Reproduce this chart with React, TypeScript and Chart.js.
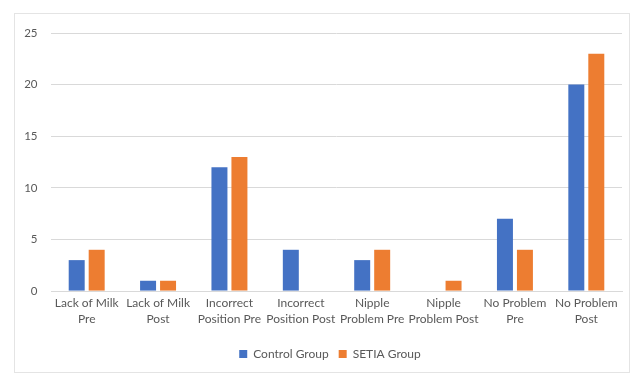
import React, { useEffect, useRef } from "react";
import { Chart, registerables } from "chart.js";

Chart.register(...registerables);

const categories: string[][] = [
  ["Lack of Milk", "Pre"],
  ["Lack of Milk", "Post"],
  ["Incorrect", "Position Pre"],
  ["Incorrect", "Position Post"],
  ["Nipple", "Problem Pre"],
  ["Nipple", "Problem Post"],
  ["No Problem", "Pre"],
  ["No Problem", "Post"],
];
const controlGroup = [3, 1, 12, 4, 3, 0, 7, 20];
const setiaGroup = [4, 1, 13, 0, 4, 1, 4, 23];

const legendShift = {
  id: "legendShift",
  afterLayout(chart: any) {
    if (chart.legend) {
      chart.legend.left += 16;
      chart.legend.right += 16;
    }
  },
};

export default function App() {
  const ref = useRef<HTMLCanvasElement>(null);
  useEffect(() => {
    if (!ref.current) return;
    const fam = "Lato, 'Open Sans', sans-serif";
    const chart = new Chart(ref.current, {
      type: "bar",
      data: {
        labels: categories,
        datasets: [
          { label: "Control Group", data: controlGroup, backgroundColor: "#4472C4", categoryPercentage: 0.56, barPercentage: 0.8 },
          { label: "SETIA Group", data: setiaGroup, backgroundColor: "#ED7D31", categoryPercentage: 0.56, barPercentage: 0.8 },
        ],
      },
      plugins: [legendShift],
      options: {
        animation: false,
        responsive: false,
        maintainAspectRatio: false,
        layout: { padding: { left: 6, right: 15, top: 33, bottom: 6 } },
        plugins: {
          legend: {
            position: "bottom",
            labels: { boxWidth: 8, boxHeight: 8, color: "#595959", font: { family: fam, size: 12 }, padding: 10 },
          },
          tooltip: { enabled: false },
        },
        scales: {
          x: {
            grid: { display: false, drawTicks: false },
            border: { color: "#d9d9d9" },
            ticks: { color: "#595959", font: { family: fam, size: 12, lineHeight: 1.33 }, maxRotation: 0, autoSkip: false, padding: 4 },
            afterFit: (axis: any) => {
              axis.height += 7;
              axis.paddingLeft = 0;
              axis.paddingRight = 0;
            },
          },
          y: {
            min: 0,
            max: 25,
            ticks: { stepSize: 5, color: "#595959", font: { family: fam, size: 11.5 }, padding: 13.5 },
            grid: { color: "#d9d9d9", drawTicks: false },
            border: { display: false },
            afterFit: (axis: any) => {
              axis.width = 45;
            },
          },
        },
      },
    });
    return () => chart.destroy();
  }, []);
  return (
    <div style={{ position: "fixed", left: 0, top: 0, width: 637, height: 376, background: "#fff" }}>
      <div style={{ position: "absolute", left: 14, top: 13, width: 616, height: 360, border: "1px solid #e4e4e4", boxSizing: "border-box" }} />
      <canvas ref={ref} width={637} height={376} style={{ display: "block", position: "absolute", left: 0, top: 0 }} />
    </div>
  );
}
